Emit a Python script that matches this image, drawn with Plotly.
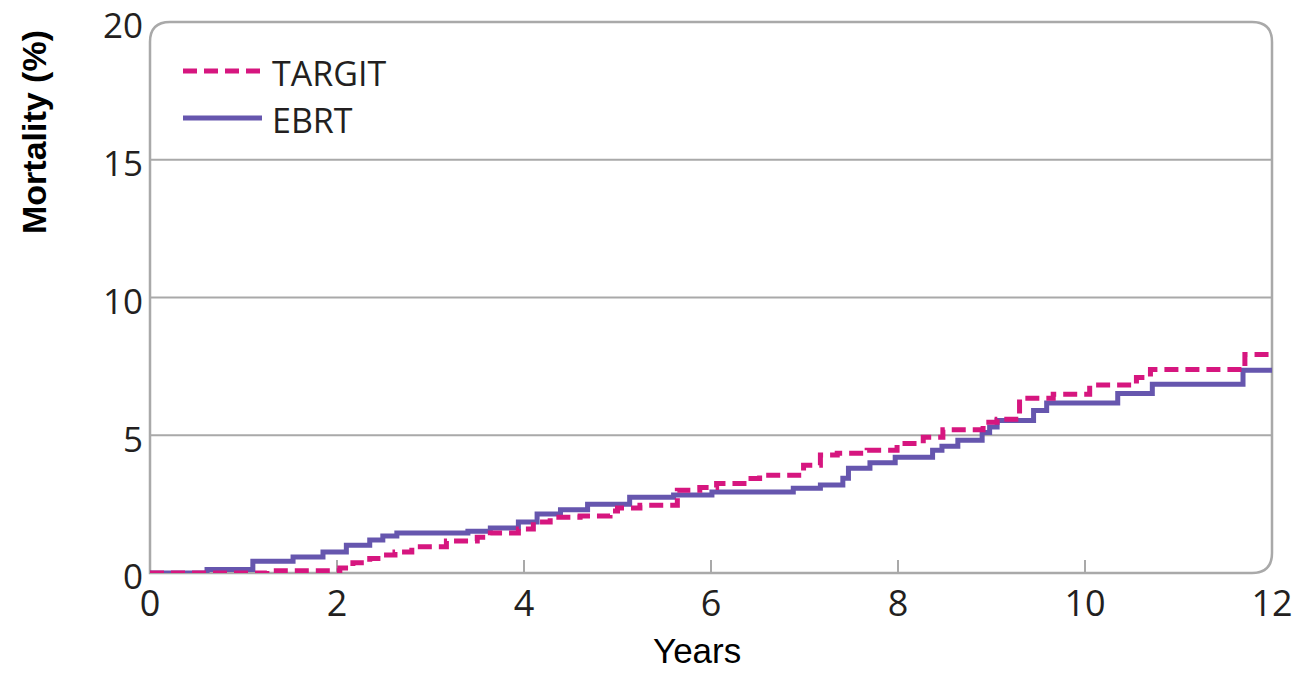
import plotly.graph_objects as go

# ---- data ----
ebrt_t = [0, 0.61, 1.1, 1.53, 1.85, 2.1, 2.35, 2.49, 2.64, 3.4, 3.64, 3.94, 4.14, 4.39, 4.68,
          5.13, 5.6, 6.01, 6.88, 7.17, 7.41, 7.47, 7.7, 7.97, 8.37, 8.47, 8.64, 8.9, 8.98,
          9.06, 9.45, 9.59, 10.35, 10.72, 11.69, 12.0]
ebrt_v = [0, 0.13, 0.43, 0.58, 0.76, 1.01, 1.2, 1.34, 1.45, 1.52, 1.63, 1.85, 2.14, 2.3, 2.5,
          2.75, 2.83, 2.94, 3.08, 3.19, 3.44, 3.8, 4.0, 4.2, 4.46, 4.6, 4.82, 5.1, 5.3,
          5.54, 5.9, 6.17, 6.52, 6.85, 7.36, 7.36]

targit_t = [0, 1.25, 2.03, 2.17, 2.35, 2.53, 2.62, 2.8, 3.17, 3.5, 3.64, 3.94, 4.1, 4.28, 4.6,
            4.92, 5.0, 5.24, 5.64, 5.88, 6.06, 6.38, 6.52, 6.99, 7.17, 7.35, 7.67, 7.99,
            8.27, 8.48, 8.91, 9.06, 9.3, 9.66, 10.05, 10.55, 10.7, 11.71, 12.0]
targit_v = [0, 0.08, 0.18, 0.37, 0.53, 0.65, 0.76, 0.95, 1.16, 1.3, 1.45, 1.6, 1.85, 2.02, 2.07,
            2.25, 2.36, 2.46, 3.0, 3.1, 3.25, 3.43, 3.55, 3.91, 4.28, 4.35, 4.46, 4.7,
            4.93, 5.2, 5.47, 5.58, 6.34, 6.49, 6.82, 7.1, 7.39, 7.93, 7.93]

x_ticks = [0, 2, 4, 6, 8, 10, 12]
y_ticks = [0, 5, 10, 15, 20]
grid_vals = [5, 10, 15]
series_names = ["TARGIT", "EBRT"]

PINK = "#D6167F"
PURPLE = "#6656AE"
FRAME = "#A9A9A9"
TEXT = "#231F20"

fig = go.Figure()
fig.add_trace(go.Scatter(x=ebrt_t, y=ebrt_v, mode="lines", line_shape="hv",
                         line=dict(color=PURPLE, width=5), name=series_names[1],
                         cliponaxis=False, showlegend=False))
fig.add_trace(go.Scatter(x=targit_t, y=targit_v, mode="lines", line_shape="hv",
                         line=dict(color=PINK, width=5, dash="14px,7px"), name=series_names[0],
                         cliponaxis=False, showlegend=False))

shapes = []
# rounded frame
rx, ry = 20 / 1122, 20 / 551
path = (f"M 0,0 L 0,{1-ry} Q 0,1 {rx},1 L {1-rx},1 Q 1,1 1,{1-ry} "
        f"L 1,{ry} Q 1,0 {1-rx},0 Z")
shapes.append(dict(type="path", xref="paper", yref="paper", path=path,
                   line=dict(color=FRAME, width=2.5), layer="below"))
# gridlines
for g in grid_vals:
    shapes.append(dict(type="line", xref="paper", yref="y", x0=0, x1=1, y0=g, y1=g,
                       line=dict(color=FRAME, width=2), layer="below"))
# inner tick marks
for t in x_ticks[1:-1]:
    shapes.append(dict(type="line", xref="x", yref="paper", x0=t, x1=t, y0=0, y1=13 / 551,
                       line=dict(color=FRAME, width=2), layer="below"))
# custom legend lines
shapes.append(dict(type="line", xref="paper", yref="paper", x0=33 / 1122, x1=112 / 1122,
                   y0=(573 - 71) / 551, y1=(573 - 71) / 551,
                   line=dict(color=PINK, width=5, dash="14px,7px")))
shapes.append(dict(type="line", xref="paper", yref="paper", x0=33 / 1122, x1=112 / 1122,
                   y0=(573 - 118) / 551, y1=(573 - 118) / 551,
                   line=dict(color=PURPLE, width=5)))

annotations = [
    dict(text=series_names[0], xref="paper", yref="paper", x=120 / 1122, y=(573 - 73) / 551,
         xanchor="left", yanchor="middle", showarrow=False,
         font=dict(family="Open Sans", size=34, color=TEXT)),
    dict(text=series_names[1], xref="paper", yref="paper", x=120 / 1122, y=(573 - 120) / 551,
         xanchor="left", yanchor="middle", showarrow=False,
         font=dict(family="Open Sans", size=34, color=TEXT)),
    dict(text="Years", xref="paper", yref="paper", x=(697 - 150) / 1122, y=(573 - 650) / 551,
         xanchor="center", yanchor="middle", showarrow=False,
         font=dict(family="Liberation Sans", size=35, color="#000000")),
    dict(text="<b>Mortality (%)</b>", xref="paper", yref="paper", x=(34 - 150) / 1122,
         y=(573 - 28) / 551, xanchor="center", yanchor="top", textangle=-90, showarrow=False,
         font=dict(family="Liberation Sans", size=34, color="#000000")),
]

fig.update_layout(
    width=1301, height=673,
    margin=dict(l=150, r=29, t=22, b=100, autoexpand=False),
    paper_bgcolor="white", plot_bgcolor="white",
    shapes=shapes, annotations=annotations,
    xaxis=dict(range=[0, 12], tickvals=x_ticks, ticks="", showgrid=False, zeroline=False,
               showline=False, ticklabelstandoff=6, automargin=False,
               tickfont=dict(family="Open Sans", size=36, color=TEXT)),
    yaxis=dict(range=[0, 20.001], tickvals=y_ticks, ticks="", showgrid=False, zeroline=False,
               showline=False, ticklabelstandoff=6, ticklabeloverflow="allow", automargin=False,
               ticklabelshift=4,
               tickfont=dict(family="Open Sans", size=35, color=TEXT)),
)

fig.write_html("out.html")
